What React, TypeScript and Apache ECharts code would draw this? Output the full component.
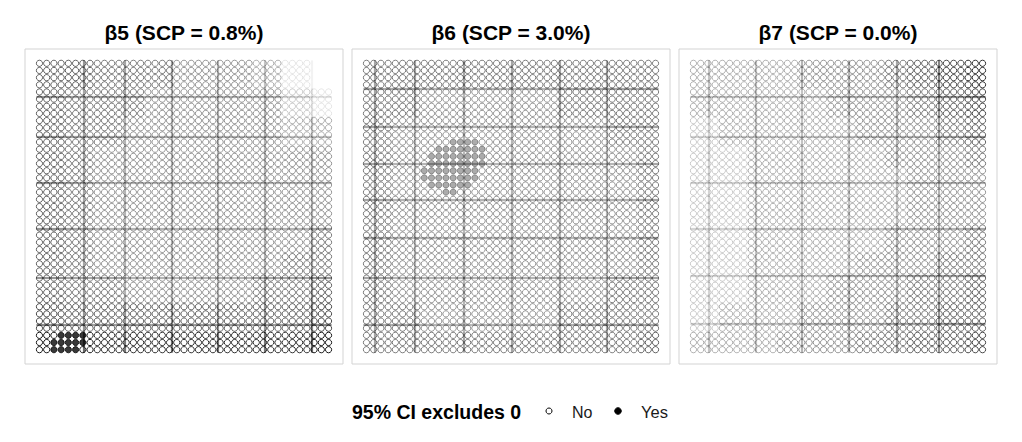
import React, { useEffect, useRef } from "react";
import * as echarts from "echarts";

// lattice of evaluation points (41 x 41)
const gridX = Array.from({ length: 41 }, (_, i) => i + 1);
const gridY = Array.from({ length: 41 }, (_, i) => i + 1);

const panelTitles = ["β5 (SCP = 0.8%)", "β6 (SCP = 3.0%)", "β7 (SCP = 0.0%)"];

// point opacity, 11 x 11 blocks (top row first), digit = opacity*10
const alphaB5 = [
  "66555444310",
  "65554444421",
  "65544444433",
  "65444444444",
  "65444444444",
  "65444444444",
  "65444444445",
  "65444444455",
  "65544444556",
  "76666666667",
  "99888888889",
];
const alphaB6 = [
  "55555555555",
  "55444445555",
  "54444444455",
  "54444444445",
  "54444444445",
  "54444444445",
  "54444444445",
  "54444444445",
  "54444444455",
  "55444445555",
  "55555555556",
];
const alphaB7 = [
  "33334445678",
  "33333444567",
  "23333344456",
  "22333334445",
  "22333333444",
  "22333333444",
  "22333334445",
  "22333344455",
  "22333444556",
  "23334445566",
  "33344455667",
];

// "Yes" points (95% CI excludes 0): [row, fromCol, toCol]
const yesB5 = [
  [3, 4, 7],
  [2, 3, 7],
  [1, 3, 6],
];
const yesB6 = [
  [30, 13, 16],
  [29, 11, 17],
  [28, 10, 17],
  [27, 10, 17],
  [26, 9, 16],
  [25, 9, 16],
  [24, 10, 15],
  [23, 12, 13],
];
const yesB7: number[][] = [];
const yesOpacity = [0.78, 0.33, 0.5];

// reference lines (data units)
const vLinesB5 = [7.1, 12.8, 19.3, 25.7, 32.2, 38.7];
const hLinesB5 = [4.5, 11.0, 17.9, 24.3, 30.7, 36.4];
const vLinesB6 = [2.2, 7.7, 14.4, 21.1, 27.7, 34.3];
const hLinesB6 = [4.5, 11.0, 16.7, 21.9, 27.0, 32.2, 37.4];
const vLinesB7 = [3.15, 9.65, 16.0, 22.5, 29.1, 34.9];
const hLinesB7 = [4.6, 11.3, 17.9, 24.3, 30.7, 36.4];

const legendTitle = "95% CI excludes 0";
const legendLabels = ["No", "Yes"];

const FONT = "'Liberation Sans', Arial, Helvetica, sans-serif";
const panelLeft = [25, 352, 679];
const panelTop = 49;
const panelW = 318;
const panelH = 315;

function cellAlpha(map: string[], i: number, j: number) {
  const n = gridX.length;
  const ci = Math.min(10, Math.floor(((i - 1) * 11) / n));
  const ri = Math.min(10, Math.floor(((n - j) * 11) / n));
  const ch = map[ri][ci];
  return ch === "X" ? 1 : Number(ch) / 10;
}

export default function App() {
  const ref = useRef<HTMLDivElement>(null);
  useEffect(() => {
    document.body.style.margin = "0";
    if (!ref.current) return;
    const chart = echarts.init(ref.current, undefined, { renderer: "svg" });
    const alphas = [alphaB5, alphaB6, alphaB7];
    const yess = [yesB5, yesB6, yesB7];
    const vls = [vLinesB5, vLinesB6, vLinesB7];
    const hls = [hLinesB5, hLinesB6, hLinesB7];
    const lo = gridX[0] - 0.42;
    const hi = gridX[gridX.length - 1] + 0.42;

    const grids: any[] = [];
    const xAxes: any[] = [];
    const yAxes: any[] = [];
    const series: any[] = [];
    const graphics: any[] = [];

    for (let k = 0; k < 3; k++) {
      grids.push({
        left: panelLeft[k],
        top: panelTop,
        width: panelW,
        height: panelH,
        show: true,
        borderColor: "#d3d3d3",
        borderWidth: 1,
        backgroundColor: "#fff",
      });
      const ax = {
        gridIndex: k,
        type: "value",
        min: -1,
        max: 43,
        show: false,
        splitLine: { show: false },
      };
      xAxes.push({ ...ax });
      yAxes.push({ ...ax });

      const alpha = alphas[k];
      const yes = yess[k];
      const isYes = (i: number, j: number) =>
        yes.some(([r, a, b]) => r === j && i >= a && i <= b);

      const segs: any[] = [];
      vls[k].forEach((v) => {
        const ci = Math.max(1, Math.min(41, Math.round(v)));
        gridY.forEach((j) => {
          const y0 = Math.max(lo, j - 0.5);
          const y1 = Math.min(hi, j + 0.5);
          segs.push({
            coords: [
              [v, y0],
              [v, y1],
            ],
            lineStyle: { opacity: Math.min(1, cellAlpha(alpha, ci, j) * 0.6 + 0.05) },
          });
        });
      });
      hls[k].forEach((h) => {
        const rj = Math.max(1, Math.min(41, Math.round(h)));
        gridX.forEach((i) => {
          const x0 = Math.max(lo, i - 0.5);
          const x1 = Math.min(hi, i + 0.5);
          segs.push({
            coords: [
              [x0, h],
              [x1, h],
            ],
            lineStyle: { opacity: Math.min(1, cellAlpha(alpha, i, rj) * 0.6 + 0.05) },
          });
        });
      });
      series.push({
        type: "lines",
        coordinateSystem: "cartesian2d",
        xAxisIndex: k,
        yAxisIndex: k,
        silent: true,
        polyline: false,
        lineStyle: { color: "#000", width: 2.2, curveness: 0 },
        data: segs,
        z: 1,
      });

      const noData: any[] = [];
      const yesData: any[] = [];
      gridY.forEach((j) => {
        gridX.forEach((i) => {
          if (isYes(i, j)) {
            yesData.push({ value: [i, j], itemStyle: { opacity: yesOpacity[k] } });
          } else {
            noData.push({ value: [i, j], itemStyle: { opacity: cellAlpha(alpha, i, j) } });
          }
        });
      });
      series.push({
        name: legendLabels[0],
        type: "scatter",
        xAxisIndex: k,
        yAxisIndex: k,
        symbol: "circle",
        symbolSize: 6.2,
        silent: true,
        itemStyle: { color: "rgba(0,0,0,0)", borderColor: "#000", borderWidth: 1 },
        data: noData,
        z: 2,
      });
      series.push({
        name: legendLabels[1],
        type: "scatter",
        xAxisIndex: k,
        yAxisIndex: k,
        symbol: "circle",
        symbolSize: 6.2,
        silent: true,
        itemStyle: { color: "#000", borderColor: "#000", borderWidth: 1 },
        data: yesData,
        z: 2,
      });

      graphics.push({
        type: "text",
        x: panelLeft[k] + panelW / 2,
        y: 32,
        style: {
          text: panelTitles[k],
          font: `bold 21px ${FONT}`,
          fill: "#000",
          textAlign: "center",
          textVerticalAlign: "middle",
        },
      });
    }

    graphics.push(
      {
        type: "text",
        x: 352,
        y: 412,
        style: {
          text: legendTitle,
          font: `bold 19.5px ${FONT}`,
          fill: "#000",
          textAlign: "left",
          textVerticalAlign: "middle",
        },
      },
      {
        type: "circle",
        shape: { cx: 549, cy: 411, r: 3 },
        style: { fill: "none", stroke: "#000", lineWidth: 1 },
      },
      {
        type: "text",
        x: 572,
        y: 412,
        style: {
          text: legendLabels[0],
          font: `16px ${FONT}`,
          fill: "#1a1a1a",
          textAlign: "left",
          textVerticalAlign: "middle",
        },
      },
      {
        type: "circle",
        shape: { cx: 618, cy: 411, r: 3.3 },
        style: { fill: "#000", stroke: "#000", lineWidth: 1 },
      },
      {
        type: "text",
        x: 641,
        y: 412,
        style: {
          text: legendLabels[1],
          font: `16.5px ${FONT}`,
          fill: "#1a1a1a",
          textAlign: "left",
          textVerticalAlign: "middle",
        },
      }
    );

    chart.setOption({
      animation: false,
      backgroundColor: "#fff",
      grid: grids,
      xAxis: xAxes,
      yAxis: yAxes,
      series,
      graphic: graphics,
    });
    return () => chart.dispose();
  }, []);
  return <div ref={ref} style={{ width: 1022, height: 442 }} />;
}
